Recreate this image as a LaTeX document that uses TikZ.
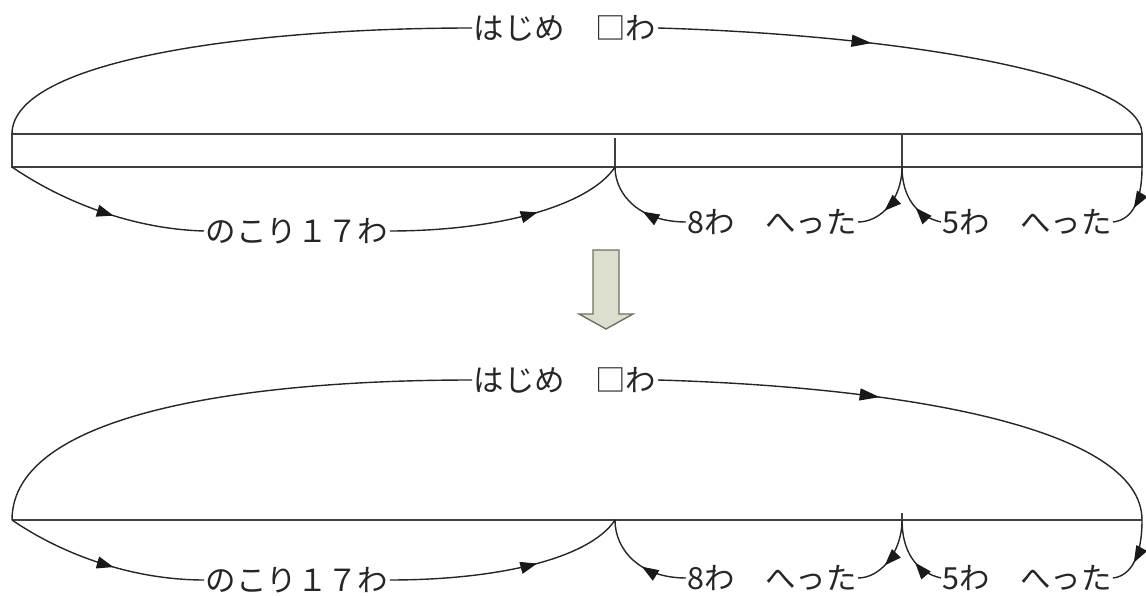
\documentclass[tikz,border=0pt]{standalone}
\usepackage{fontspec}
\setmainfont{Noto Sans CJK JP}
\usetikzlibrary{arrows.meta,decorations.markings}
\begin{document}
\begin{tikzpicture}[x=0.03cm,y=-0.03cm,
  lbl/.style={font=\fontsize{26}{30}\selectfont, inner sep=1pt, text=black!85},
  conn/.style={line width=1.2pt, draw=black!85},
  barline/.style={line width=1.3pt, draw=black!75},
  midarrow/.style={postaction={decorate,decoration={markings,
     mark=at position #1 with {\arrow[black!90]{Triangle[length=0.5cm,width=0.36cm]}}}}},
  bigarrow/.style={postaction={decorate,decoration={markings,
     mark=at position #1 with {\arrow[black!90]{Triangle[length=0.6cm,width=0.36cm]}}}}},
  blockarrow/.style={draw={rgb,255:red,110;green,112;blue,100}, line width=1.2pt,
     fill={rgb,255:red,220;green,222;blue,206}, line join=miter},
]
\useasboundingbox (0,0) rectangle (1146,596);

% ---------- upper diagram ----------
\coordinate (a1) at (12,134);
\coordinate (b1) at (12,167);
\coordinate (d1) at (615,167);
\coordinate (dt1) at (615,138);
\coordinate (e1) at (902,167);
\coordinate (et1) at (902,134);
\coordinate (f1) at (1142,167);
\coordinate (g1) at (1142,134);

\node[lbl] (t1) at (565,28) {はじめ　□わ};
\node[lbl] (l1) at (297,231) {のこり１７わ};
\node[lbl] (m1) at (772,222) {8わ　へった};
\node[lbl] (r1) at (1027,222) {5わ　へった};

\draw[barline] (a1) rectangle (f1);
\draw[barline] (dt1) -- (d1);
\draw[barline] (et1) -- (e1);

\draw[conn] (a1) .. controls (12,60) and (250,28) .. (t1.west);
\draw[conn, bigarrow=0.42] (t1.east) .. controls (900,35) and (1142,75) .. (g1);

\draw[conn, midarrow=0.55] (b1) .. controls (60,200) and (130,229) .. (l1.west);
\draw[conn, midarrow=0.62] (l1.east) .. controls (500,231) and (590,205) .. (d1);

\draw[conn, midarrow=0.45] (m1.west) .. controls (640,222) and (615,195) .. (d1);
\draw[conn, midarrow=0.62] (e1) .. controls (902,200) and (880,222) .. (m1.east);

\draw[conn, midarrow=0.4] (r1.west) .. controls (915,216) and (902,195) .. (e1);
\draw[conn, midarrow=0.62] (f1) .. controls (1142,205) and (1130,220) .. (r1.east);

% ---------- block arrow ----------
\path[blockarrow] (593,250) -- (619,250) -- (619,314) -- (633,314) -- (606,329)
   -- (579,314) -- (593,314) -- cycle;

% ---------- lower diagram ----------
\coordinate (b2) at (12,520);
\coordinate (d2) at (615,520);
\coordinate (e2) at (902,520);
\coordinate (et2) at (902,513);
\coordinate (f2) at (1142,520);

\node[lbl] (t2) at (565,380) {はじめ　□わ};
\node[lbl] (l2) at (297,580) {のこり１７わ};
\node[lbl] (m2) at (772,578) {8わ　へった};
\node[lbl] (r2) at (1027,578) {5わ　へった};

\draw[barline] (b2) -- (f2);
\draw[barline] (et2) -- (e2);

\draw[conn] (b2) .. controls (12,412) and (250,380) .. (t2.west);
\draw[conn, bigarrow=0.42] (t2.east) .. controls (900,387) and (1142,427) .. (f2);

\draw[conn, midarrow=0.55] (b2) .. controls (60,553) and (130,580) .. (l2.west);
\draw[conn, midarrow=0.62] (l2.east) .. controls (500,580) and (590,558) .. (d2);

\draw[conn, midarrow=0.45] (m2.west) .. controls (640,578) and (615,550) .. (d2);
\draw[conn, midarrow=0.62] (e2) .. controls (902,553) and (880,578) .. (m2.east);

\draw[conn, midarrow=0.4] (r2.west) .. controls (915,572) and (902,550) .. (e2);
\draw[conn, midarrow=0.62] (f2) .. controls (1142,558) and (1130,576) .. (r2.east);
\end{tikzpicture}
\end{document}
